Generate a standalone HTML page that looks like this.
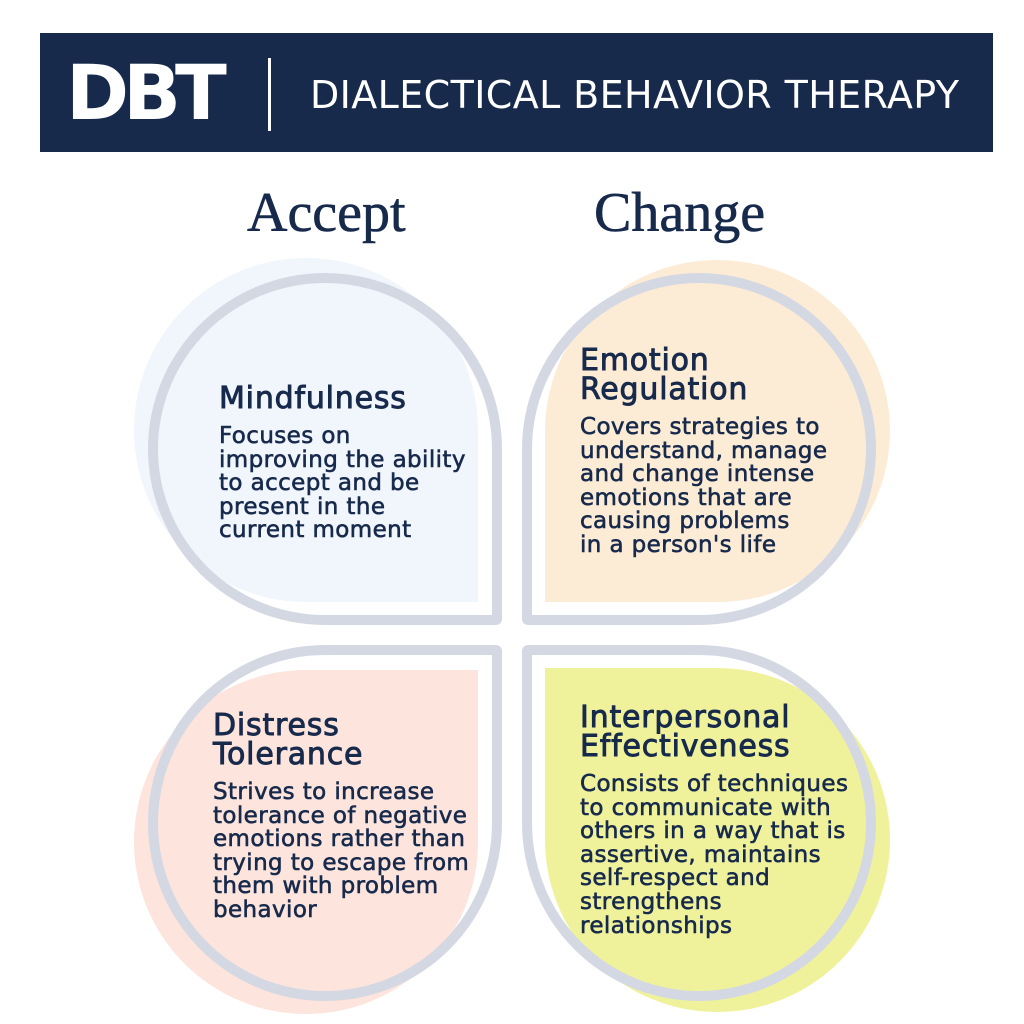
<!DOCTYPE html>
<html><head><meta charset="utf-8"><style>
body{margin:0;width:1024px;height:1024px;background:#fff;position:relative;overflow:hidden;font-family:"DejaVu Sans","Liberation Sans",sans-serif;color:#172a4c}
.a{position:absolute}
.o{position:absolute;box-sizing:border-box;border:10px solid #d4d8e3}
.t{position:absolute;font-size:30px;line-height:29px;-webkit-text-stroke:0.9px #172a4c;letter-spacing:0.8px}
.b{position:absolute;font-size:23px;line-height:23.6px;-webkit-text-stroke:0.6px #172a4c;letter-spacing:0.4px}
.h{position:absolute;font-family:"Liberation Serif",serif;font-size:56px;color:#172a4c;-webkit-text-stroke:0.6px #172a4c}
</style></head><body>
<div class="a" style="left:40px;top:33px;width:953px;height:119px;background:#172a4c"></div>
<div class="a" style="left:66px;top:48px;font-size:76px;font-weight:bold;color:#fff;line-height:90px;letter-spacing:-6px">DBT</div>
<div class="a" style="left:268px;top:58px;width:3px;height:73px;background:#fff"></div>
<div class="a" style="left:310px;top:72px;font-size:38px;color:#fff;line-height:46px;letter-spacing:0.4px">DIALECTICAL BEHAVIOR THERAPY</div>
<div class="h" style="left:247px;top:181px">Accept</div>
<div class="h" style="left:594px;top:181px">Change</div>

<div class="a" style="left:134px;top:258px;width:344px;height:344px;background:#f1f5fc;border-radius:50% 50% 0 50%"></div>
<div class="a" style="left:545px;top:260px;width:345px;height:342px;background:#fdecd5;border-radius:50% 50% 50% 0"></div>
<div class="a" style="left:134px;top:670px;width:344px;height:344px;background:#fde4dc;border-radius:50% 0 50% 50%"></div>
<div class="a" style="left:545px;top:668px;width:345px;height:344px;background:#eff29b;border-radius:0 50% 50% 50%"></div>
<div class="o" style="left:148px;top:273px;width:354px;height:352px;border-radius:50% 50% 6px 50%"></div>
<div class="o" style="left:522px;top:273px;width:354px;height:352px;border-radius:50% 50% 50% 6px"></div>
<div class="o" style="left:148px;top:645px;width:354px;height:356px;border-radius:50% 6px 50% 50%"></div>
<div class="o" style="left:522px;top:645px;width:354px;height:356px;border-radius:6px 50% 50% 50%"></div>

<div class="t" style="left:219px;top:384px">Mindfulness</div>
<div class="b" style="left:219px;top:425px">Focuses on<br>improving the ability<br>to accept and be<br>present in the<br>current moment</div>

<div class="t" style="left:580px;top:346px">Emotion<br>Regulation</div>
<div class="b" style="left:580px;top:416px">Covers strategies to<br>understand, manage<br>and change intense<br>emotions that are<br>causing problems<br>in a person's life</div>

<div class="t" style="left:213px;top:711px">Distress<br>Tolerance</div>
<div class="b" style="left:213px;top:781px">Strives to increase<br>tolerance of negative<br>emotions rather than<br>trying to escape from<br>them with problem<br>behavior</div>

<div class="t" style="left:580px;top:703px">Interpersonal<br>Effectiveness</div>
<div class="b" style="left:580px;top:773px">Consists of techniques<br>to communicate with<br>others in a way that is<br>assertive, maintains<br>self-respect and<br>strengthens<br>relationships</div>
</body></html>
